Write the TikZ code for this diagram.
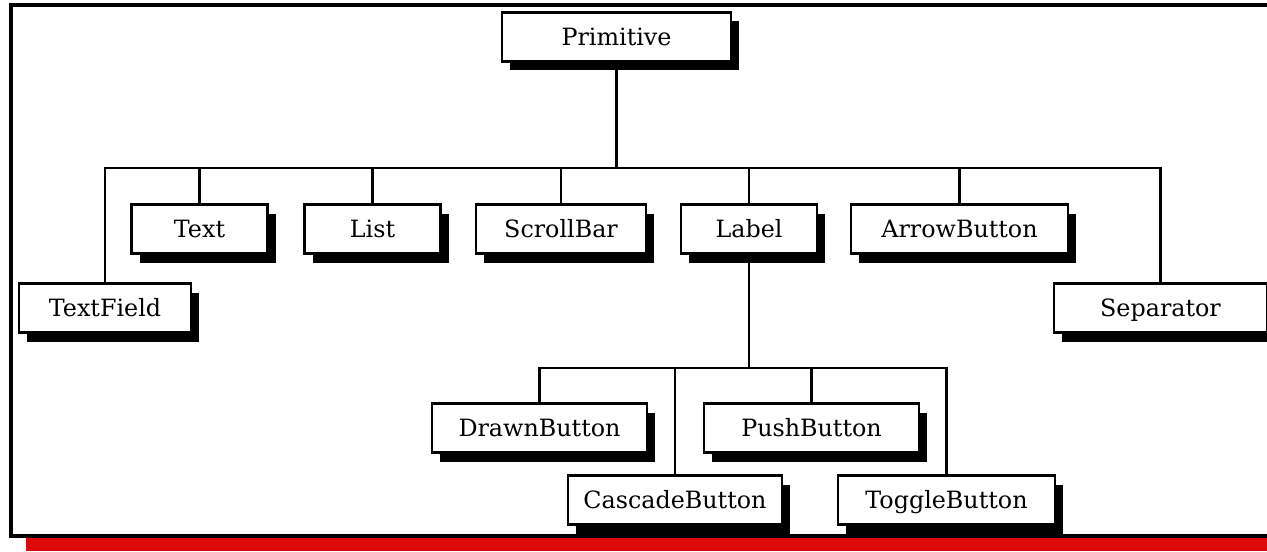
\documentclass[tikz,border=0pt]{standalone}
\usepackage{fontspec}
\setmainfont{DejaVu Serif}
\usetikzlibrary{shadows}
\definecolor{barRed}{RGB}{221,8,8}

\begin{document}
\begin{tikzpicture}[
            x=0.5pt, y=-0.5pt,
            box/.style={
                    draw=black,
                    fill=white,
                    rectangle,
                    line width=1.2pt,
                    minimum width=68pt,
                    minimum height=24.5pt,
                    inner sep=0pt,
                    text height=8.5pt,
                    text depth=0pt,
                    align=center,
                    font=\fontsize{11.9}{14}\selectfont,
                    drop shadow={shadow xshift=4pt, shadow yshift=-4.5pt, fill=black, opacity=1}
                },
            link/.style={
                    draw=black,
                    line width=1.2pt
                },
            frame/.style={
                    draw=black,
                    line width=1.6pt
                }
            ]
            \useasboundingbox (0,0) rectangle (1267,551);

            % Marco y barra roja inferior
            \draw[frame] (1280,5) -- (11,5) -- (11,536) -- (1280,536);
            \fill[barRed] (26,538) rectangle (1280,551);

            % 1. Raiz
            \node[box, minimum width=114.5pt] (primitive) at (616.5,37) {Primitive};

            % 2. Primer nivel
            \node[box] (text) at (199.5,229) {Text};
            \node[box] (list) at (372.5,229) {List};
            \node[box, minimum width=85pt] (scrollBar) at (561,229) {ScrollBar};
            \node[box] (label) at (749,229) {Label};
            \node[box, minimum width=108.5pt] (arrowButton) at (959.5,229) {ArrowButton};
            \node[box, minimum width=86pt] (textField) at (105,308) {TextField};
            \node[box, minimum width=106.5pt] (separator) at (1160.5,308) {Separator};

            % 3. Hijos de Label
            \node[box, minimum width=107.5pt] (drawnButton) at (539.5,428) {DrawnButton};
            \node[box, minimum width=107.5pt] (pushButton) at (811.5,428) {PushButton};
            \node[box, minimum width=107pt] (cascadeButton) at (675,500) {CascadeButton};
            \node[box, minimum width=108.5pt] (toggleButton) at (946.5,500) {ToggleButton};

            % --- CONEXIONES ---
            \coordinate (busTop) at (0,168);
            \coordinate (busLabel) at (0,368);

            \foreach \child in {textField,text,list,scrollBar,label,arrowButton,separator}
                \draw[link] (primitive.south) -- (primitive.south |- busTop) -| (\child.north);

            \foreach \child in {drawnButton,cascadeButton,pushButton,toggleButton}
                \draw[link] (label.south) -- (label.south |- busLabel) -| (\child.north);

        \end{tikzpicture}
\end{document}
